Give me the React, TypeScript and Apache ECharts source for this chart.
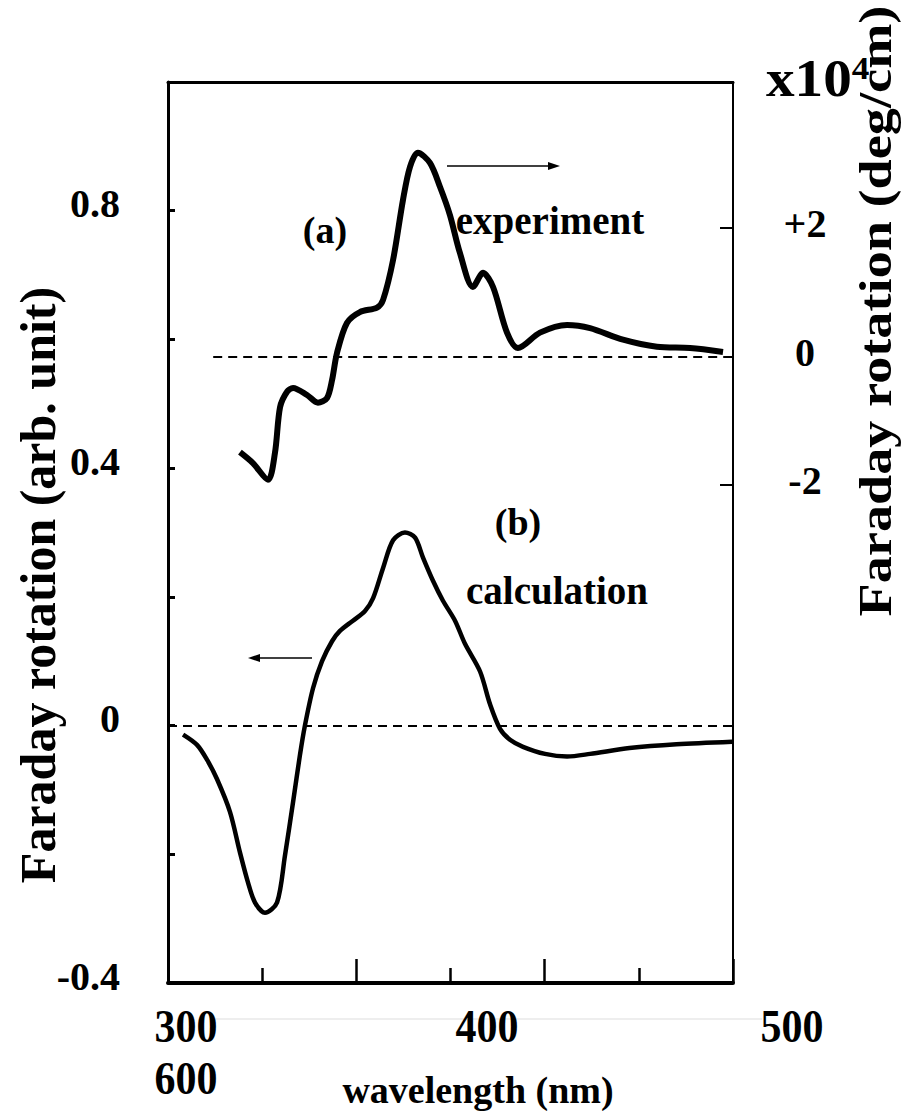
import React, { useEffect, useRef } from "react";
import * as echarts from "echarts";

// experiment (a): wavelength (nm) vs Faraday rotation (x10^4 deg/cm), right axis
const expWavelength = [338.2, 345.1, 353.1, 356.8, 359.5, 363.2, 366.4, 373.8, 379.6, 384.4, 387.1, 389.7, 395.0, 401.9, 411.0, 414.2, 419.5, 424.8, 428.5, 432.7, 439.1, 444.4, 449.7, 455.0, 461.9, 467.3, 472.6, 480.0, 485.8, 497.5, 511.9, 524.1, 541.6, 559.6, 577.2, 594.7];
const expRotation = [-1.49, -1.66, -1.92, -1.5, -0.79, -0.55, -0.49, -0.6, -0.72, -0.65, -0.37, 0.05, 0.52, 0.69, 0.76, 0.88, 1.5, 2.44, 2.95, 3.17, 3.01, 2.64, 2.2, 1.61, 1.08, 1.3, 1.08, 0.37, 0.13, 0.37, 0.49, 0.44, 0.26, 0.15, 0.13, 0.07];

// calculation (b): wavelength (nm) vs Faraday rotation (arb. unit), left axis
const calcWavelength = [308.0, 315.4, 320.7, 326.0, 332.9, 338.2, 342.5, 346.2, 351.5, 357.9, 362.1, 366.4, 370.1, 372.7, 377.0, 381.8, 387.1, 391.3, 398.2, 404.6, 408.9, 414.2, 419.5, 425.8, 431.2, 435.4, 440.7, 446.0, 452.4, 457.7, 465.7, 471.0, 476.3, 481.6, 488.5, 500.2, 511.9, 524.1, 545.0, 570.0, 599.5];
const calcRotation = [-0.014, -0.03, -0.053, -0.083, -0.134, -0.197, -0.244, -0.275, -0.291, -0.275, -0.202, -0.119, -0.045, 0.0, 0.058, 0.1, 0.131, 0.147, 0.163, 0.178, 0.198, 0.245, 0.288, 0.3, 0.292, 0.261, 0.225, 0.194, 0.163, 0.127, 0.084, 0.033, -0.005, -0.022, -0.033, -0.044, -0.048, -0.044, -0.035, -0.029, -0.025];

const leftTickLabels = [-0.4, 0, 0.4, 0.8];
const rightTickLabels = [-2, 0, 2];
const rightTicks = [-2, 2];
const xTickLabelsRow1 = ["300", "400", "500"];
const xTickLabelsRow2 = ["600"];
const expBaselineStart = 324;

const FONT = "Liberation Serif";

export default function App() {
  const ref = useRef<HTMLDivElement>(null);
  useEffect(() => {
    if (!ref.current) return;
    const chart = echarts.init(ref.current, undefined, { renderer: "svg" });
    const expData = expWavelength.map((x, i) => [x, expRotation[i]]);
    const calcData = calcWavelength.map((x, i) => [x, calcRotation[i]]);
    const txt = (text: string, x: number, y: number, size: number, extra: any = {}) => ({
      type: "text",
      x,
      y,
      ...extra,
      style: {
        text,
        fontFamily: FONT,
        fontWeight: "bold",
        fontSize: size,
        fill: "#000",
        textAlign: "center",
        textVerticalAlign: "middle",
        ...(extra.style || {}),
      },
    });
    const xPos1 = [186, 487, 792];
    const graphics: any[] = [
      { type: "line", shape: { x1: 212, y1: 1019, x2: 762, y2: 1019 }, style: { stroke: "#dddddd", lineWidth: 1 }, z: -1 },
      ...xTickLabelsRow1.map((t, i) => txt(t, xPos1[i], 1026, 42, { scaleY: 1.12 })),
      ...xTickLabelsRow2.map((t) => txt(t, 186, 1078, 42, { scaleY: 1.12 })),
      txt("wavelength (nm)", 478, 1090, 38),
      txt("Faraday rotation (arb. unit)", 38, 585, 50, { rotation: Math.PI / 2 }),
      txt("Faraday rotation (deg/cm)", 875, 311, 46, { rotation: Math.PI / 2, scaleX: 1.18 }),
      {
        type: "text",
        x: 766,
        y: 52,
        scaleX: 1.1,
        style: {
          text: "{a|x10}{b|4}",
          textAlign: "left",
          textVerticalAlign: "top",
          rich: {
            a: { fontFamily: FONT, fontWeight: "bold", fontSize: 52, lineHeight: 52, verticalAlign: "top", fill: "#000", color: "#000" },
            b: { fontFamily: FONT, fontWeight: "bold", fontSize: 32, lineHeight: 32, verticalAlign: "top", fill: "#000", color: "#000" },
          },
        },
      },
      txt("(a)", 325, 230, 38),
      txt("experiment", 550, 220, 39),
      txt("(b)", 518, 522, 38),
      txt("calculation", 557, 590, 39),
      { type: "line", shape: { x1: 447, y1: 166, x2: 552, y2: 166 }, style: { stroke: "#000", lineWidth: 1.5 } },
      { type: "polygon", shape: { points: [[560, 166], [548, 162], [548, 170]] }, style: { fill: "#000" } },
      { type: "line", shape: { x1: 312, y1: 658, x2: 256, y2: 658 }, style: { stroke: "#000", lineWidth: 1.5 } },
      { type: "polygon", shape: { points: [[248, 658], [260, 654], [260, 662]] }, style: { fill: "#000" } },
    ];
    const option: any = {
      animation: false,
      backgroundColor: "#fff",
      grid: { left: 168, right: 172, top: 82, bottom: 128 },
      xAxis: [
        {
          type: "value",
          min: 300,
          max: 600,
          interval: 100,
          axisLine: { show: true, onZero: false, lineStyle: { color: "#000", width: 4 } },
          axisTick: { show: true, inside: true, length: 24, lineStyle: { color: "#000", width: 2.5 } },
          minorTick: { show: true, splitNumber: 2, length: 15, lineStyle: { color: "#000", width: 2.5 } },
          axisLabel: { show: false },
          splitLine: { show: false },
        },
        {
          type: "value",
          position: "top",
          min: 300,
          max: 600,
          axisLine: { show: true, onZero: false, lineStyle: { color: "#000", width: 3 } },
          axisTick: { show: false },
          axisLabel: { show: false },
          splitLine: { show: false },
        },
      ],
      yAxis: [
        {
          type: "value",
          min: -0.4,
          max: 1.0,
          interval: 0.2,
          axisLine: { show: true, onZero: false, lineStyle: { color: "#000", width: 3 } },
          axisTick: { show: true, inside: true, length: 7, lineStyle: { color: "#000", width: 3 } },
          axisLabel: {
            show: true,
            margin: 48,
            color: "#000",
            formatter: (v: number) => {
              const hit = leftTickLabels.find((t) => Math.abs(t - v) < 1e-6);
              return hit === undefined ? "" : "{l|" + String(hit) + "}";
            },
            rich: {
              l: { fontFamily: FONT, fontWeight: "bold", fontSize: 40, color: "#000", padding: [0, 0, 14, 0] },
            },
          },
          splitLine: { show: false },
        },
        {
          type: "value",
          position: "right",
          min: -9.75,
          max: 4.27,
          axisLine: { show: true, onZero: false, lineStyle: { color: "#000", width: 2 } },
          axisTick: { show: true, inside: true, length: 13, customValues: rightTicks, lineStyle: { color: "#000", width: 2 } },
          axisLabel: { show: false },
          splitLine: { show: false },
        },
      ],
      series: [
        {
          name: "experiment",
          type: "line",
          xAxisIndex: 0,
          yAxisIndex: 1,
          data: expData,
          smooth: 0.3,
          symbol: "none",
          lineStyle: { color: "#000", width: 6 },
          markLine: {
            silent: true,
            symbol: "none",
            label: { show: false },
            lineStyle: { color: "#000", width: 2, type: [9, 6] },
            data: [[{ coord: [expBaselineStart, 0] }, { coord: [600, 0] }]],
          },
        },
        {
          name: "calculation",
          type: "line",
          xAxisIndex: 0,
          yAxisIndex: 0,
          data: calcData,
          smooth: 0.3,
          symbol: "none",
          lineStyle: { color: "#000", width: 4.5 },
          markLine: {
            silent: true,
            symbol: "none",
            label: { show: false },
            lineStyle: { color: "#000", width: 2, type: [9, 6] },
            data: [[{ coord: [300, 0] }, { coord: [600, 0] }]],
          },
        },
      ],
      graphic: graphics,
    };
    chart.setOption(option);
    // right-axis tick labels placed through the axis scale
    const rightLabels = rightTickLabels.map((v) => {
      const py = chart.convertToPixel({ yAxisIndex: 1 } as any, v) as number;
      const label = v > 0 ? "+" + v : String(v);
      return txt(label, 805, py - 4, 40);
    });
    chart.setOption({ graphic: [...graphics, ...rightLabels] });
    return () => chart.dispose();
  }, []);
  return (
    <div
      ref={ref}
      style={{ position: "absolute", left: 0, top: 0, width: 905, height: 1111, background: "#fff" }}
    />
  );
}
